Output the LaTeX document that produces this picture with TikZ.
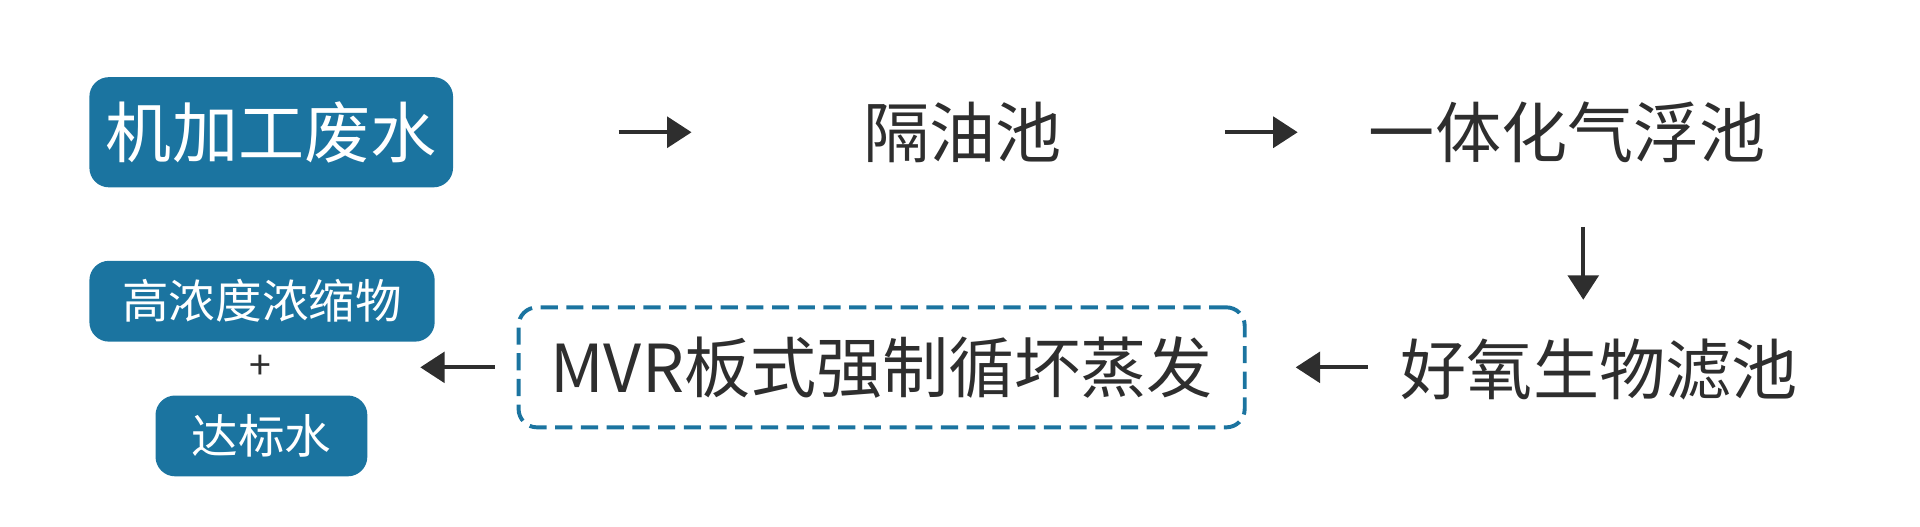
\documentclass[tikz,border=0pt]{standalone}
\usepackage{fontspec}
\setmainfont{Noto Sans CJK SC}
\usetikzlibrary{arrows.meta,calc}
\definecolor{procblue}{HTML}{1B74A0}
\definecolor{inkgray}{HTML}{2E2E2E}
\begin{document}
\begin{tikzpicture}[x=1pt,y=-1pt,
  big/.style={font=\fontsize{54}{60}\selectfont,text=inkgray,inner sep=0pt,text height=47.5pt,text depth=6.5pt},
  small/.style={font=\fontsize{38}{44}\selectfont,text=white,inner sep=0pt,text height=33.4pt,text depth=4.6pt,fill=procblue,rounded corners=16pt,minimum height=66pt},
  flow/.style={draw=inkgray,line width=3.5pt,-{Triangle[length=20pt,width=25pt]}}]
\useasboundingbox (0,0) rectangle (1568,430);

\node[big,text=white,fill=procblue,rounded corners=16pt,minimum width=297pt,minimum height=90pt] (waste) at (221.5,108) {机加工废水};
\node[big] (geyou) at (786,108) {隔油池};
\node[big] (qifu) at (1280,108) {一体化气浮池};
\node[big] (lvchi) at (1306,302) {好氧生物滤池};
\node[big,draw=procblue,dash pattern=on 14pt off 7pt,line width=3.2pt,rounded corners=15pt,minimum width=593pt,minimum height=98pt] (mvr) at (720,300) {MVR板式强制循坏蒸发};

\node[small,minimum width=282pt] (conc) at (214,246) {高浓度浓缩物};
\node[font=\fontsize{32}{36}\selectfont,text=inkgray,inner sep=0pt] (plus) at (213,300) {+};
\node[small,minimum width=173pt] (clean) at (213.5,356) {达标水};

\coordinate (mid) at ($(qifu)!.5!(lvchi)$);
\draw[flow,shorten <=135pt,shorten >=140pt] (waste) -- (geyou);
\draw[flow,shorten <=133pt,shorten >=58pt] (geyou) -- (qifu);
\draw[flow,shorten <=50pt,shorten >=30pt] (qifu.south -| mid) -- (lvchi.north -| mid);
\draw[flow,shorten <=27pt,shorten >=40pt] (lvchi.west |- mvr.east) -- (mvr.east);
\draw[flow,shorten <=18pt,shorten >=43pt] (mvr.west) -- (mvr.west -| clean.east);
\end{tikzpicture}
\end{document}
